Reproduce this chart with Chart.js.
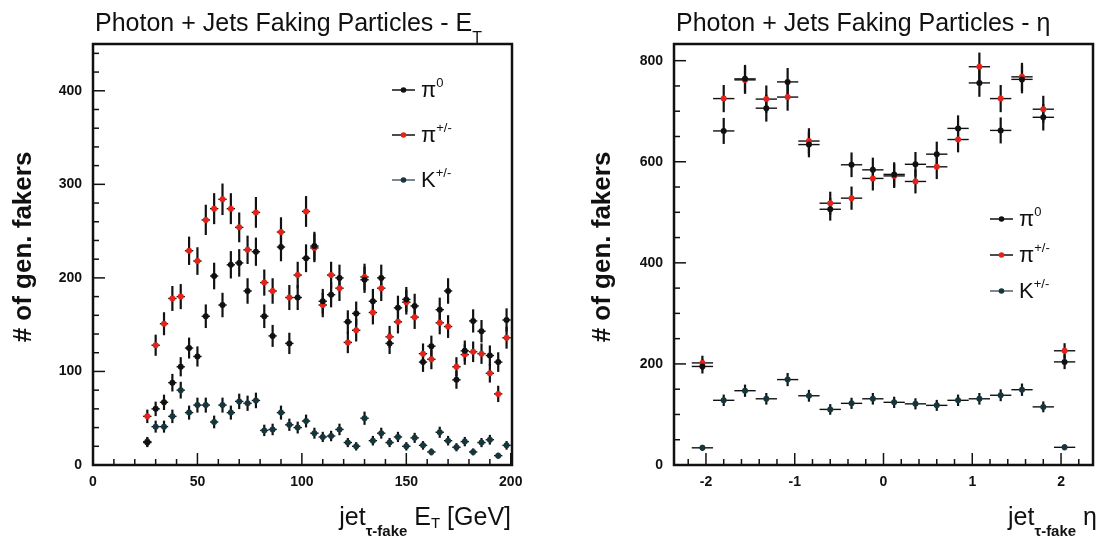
<!DOCTYPE html>
<html>
<head>
<meta charset="utf-8">
<script src="https://cdn.jsdelivr.net/npm/chart.js@4.4.1/dist/chart.umd.min.js"></script>
<style>
    html, body { margin: 0; padding: 0; background: #fff; }
    #wrap { position: relative; width: 1097px; height: 539px; }
    canvas { position: absolute; top: 0; }
    #et-chart { left: 0; }
    #eta-chart { left: 548px; }
</style>
</head>
<body>
<div id="wrap">
    <canvas id="et-chart" width="548" height="539"></canvas>
    <canvas id="eta-chart" width="549" height="539"></canvas>
</div>
<script>
// Left panel: jet E_T, 4 GeV bins
const etBins = [26, 30, 34, 38, 42, 46, 50, 54, 58, 62, 66, 70, 74, 78, 82, 86, 90, 94, 98, 102, 106, 110,
    114, 118, 122, 126, 130, 134, 138, 142, 146, 150, 154, 158, 162, 166, 170, 174, 178, 182, 186, 190, 194, 198];
const etPi0 = [24, 60, 67, 88, 105, 125, 116, 159, 202, 171, 214, 216, 186, 228, 159, 138, 233, 130, 179, 221, 234, 175,
    182, 200, 153, 162, 198, 175, 200, 130, 168, 177, 170, 110, 127, 166, 186, 91, 122, 154, 143, 117, 110, 155];
const etPiPM = [52, 128, 151, 178, 180, 229, 218, 262, 274, 284, 274, 254, 230, 270, 195, 186, 249, 179, 203, 271, 232, 171,
    203, 189, 131, 144, 201, 163, 189, 137, 153, 174, 158, 119, 113, 152, 148, 105, 118, 121, 119, 98, 76, 136];
const etK = [25, 41, 41, 52, 80, 56, 64, 64, 46, 64, 56, 68, 66, 69, 37, 38, 56, 43, 40, 47, 34, 30,
    31, 38, 24, 20, 50, 26, 34, 24, 30, 20, 29, 21, 14, 35, 26, 19, 25, 14, 24, 27, 10, 21];
const etXTicks = [0, 50, 100, 150, 200];
const etYTicks = [0, 100, 200, 300, 400];

// Right panel: jet eta, 0.24 bins
const etaBins = [-2.04, -1.80, -1.56, -1.32, -1.08, -0.84, -0.60, -0.36, -0.12,
    0.12, 0.36, 0.60, 0.84, 1.08, 1.32, 1.56, 1.80, 2.04];
const etaPi0 = [195, 661, 764, 706, 758, 634, 506, 594, 584, 575, 595, 615, 666, 756, 662, 763, 688, 204];
const etaPiPM = [202, 725, 762, 724, 728, 641, 518, 528, 567, 572, 561, 590, 644, 788, 725, 768, 704, 226];
const etaK = [34, 128, 147, 131, 169, 137, 110, 122, 131, 124, 121, 118, 128, 131, 138, 149, 115, 35];
const etaXTicks = [-2, -1, 0, 1, 2];
const etaYTicks = [0, 200, 400, 600, 800];

const FONT = '"Liberation Sans", Arial, Helvetica, sans-serif';
const INK = '#111';
const RED = '#e5231b';
const KCOL = '#14363c';

// draw text made of pieces (sub/superscripts), returns width
const richWidth = (ctx, parts) => parts.reduce((w, p) => {
    ctx.font = p.font;
    return w + ctx.measureText(p.t).width;
}, 0);

const drawRich = (ctx, x, y, parts) => {
    let cx = x;
    parts.forEach((p) => {
        ctx.font = p.font;
        ctx.fillText(p.t, cx, y + (p.dy || 0));
        cx += ctx.measureText(p.t).width;
    });
};

const line = (ctx, x0, y0, x1, y1) => {
    ctx.beginPath();
    ctx.moveTo(x0, y0);
    ctx.lineTo(x1, y1);
    ctx.stroke();
};

const panelPlugin = {
    id: 'panel',
    // Poisson error bars, horizontal = half bin width
    beforeDatasetsDraw(chart, args, opts) {
        const { ctx, scales: { x, y } } = chart;
        ctx.save();
        ctx.strokeStyle = INK;
        chart.data.datasets.forEach((ds) => {
            ds.data.forEach((pt) => {
                const err = Math.sqrt(pt.y);
                const px = x.getPixelForValue(pt.x);
                const py = y.getPixelForValue(pt.y);
                ctx.lineWidth = 2.2;
                line(ctx, px, y.getPixelForValue(pt.y - err), px, y.getPixelForValue(pt.y + err));
                ctx.lineWidth = 1.4;
                line(ctx, x.getPixelForValue(pt.x - opts.halfWidth), py, x.getPixelForValue(pt.x + opts.halfWidth), py);
            });
        });
        ctx.restore();
    },
    afterDraw(chart, args, opts) {
        const { ctx, chartArea: area, scales: { x, y } } = chart;
        ctx.save();
        ctx.strokeStyle = INK;
        ctx.fillStyle = INK;

        // inner tick marks
        ctx.lineWidth = 1.5;
        for (let v = opts.xTicks.from; v <= opts.xTicks.to + 1e-9; v += opts.xTicks.minor) {
            const major = Math.abs(v / opts.xTicks.major - Math.round(v / opts.xTicks.major)) < 1e-6;
            const px = x.getPixelForValue(v);
            line(ctx, px, area.bottom, px, area.bottom - (major ? 12 : 6));
        }
        for (let v = opts.yTicks.from; v <= opts.yTicks.to + 1e-9; v += opts.yTicks.minor) {
            const major = Math.abs(v / opts.yTicks.major - Math.round(v / opts.yTicks.major)) < 1e-6;
            const py = y.getPixelForValue(v);
            line(ctx, area.left, py, area.left + (major ? 12 : 6), py);
        }

        // frame
        ctx.lineWidth = 2.5;
        ctx.strokeRect(area.left, area.top, area.right - area.left, area.bottom - area.top);

        // title
        ctx.textAlign = 'left';
        ctx.textBaseline = 'alphabetic';
        drawRich(ctx, area.left + 2, 31, opts.title);

        // x-axis title, right aligned
        const w = richWidth(ctx, opts.xTitle);
        drawRich(ctx, opts.xTitleEnd - w, 525, opts.xTitle);

        // y-axis title
        ctx.save();
        ctx.translate(opts.yTitleX, 247);
        ctx.rotate(-Math.PI / 2);
        ctx.textAlign = 'center';
        ctx.font = `bold 26px ${FONT}`;
        ctx.fillText('# of gen. fakers', 0, 0);
        ctx.restore();

        // legend
        opts.legend.forEach((row, i) => {
            const ly = opts.legendPos.y + i * opts.legendPos.dy;
            const lx = opts.legendPos.x;
            ctx.strokeStyle = row.line;
            ctx.lineWidth = 1.5;
            line(ctx, lx, ly, lx + 23, ly);
            ctx.fillStyle = row.color;
            ctx.beginPath();
            ctx.arc(lx + 11.5, ly, 2.8, 0, Math.PI * 2);
            ctx.fill();
            ctx.fillStyle = INK;
            drawRich(ctx, lx + 29, ly + 7, row.label);
        });
        ctx.restore();
    },
};

const big = `22px ${FONT}`;
const sup = `13px ${FONT}`;
const legendRows = [
    { line: INK, color: INK, label: [{ t: 'π', font: big }, { t: '0', font: sup, dy: -10 }] },
    { line: INK, color: RED, label: [{ t: 'π', font: big }, { t: '+/-', font: sup, dy: -10 }] },
    { line: '#4f5f6c', color: KCOL, label: [{ t: 'K', font: big }, { t: '+/-', font: sup, dy: -10 }] },
];

const tickFont = { family: FONT, size: 14, weight: 'bold' };

const makePanel = (canvasId, cfg) => {
    const toPoints = (vals) => vals.map((v, i) => ({ x: cfg.bins[i], y: v }));
    const dataset = (label, vals, color) => ({
        label,
        data: toPoints(vals),
        pointRadius: 3,
        pointBackgroundColor: color,
        pointBorderWidth: 0,
        showLine: false,
    });

    return new Chart(document.getElementById(canvasId).getContext('2d'), {
        type: 'scatter',
        data: {
            datasets: [
                dataset('pi0', cfg.pi0, INK),
                dataset('pi+/-', cfg.piPM, RED),
                dataset('K+/-', cfg.k, KCOL),
            ],
        },
        plugins: [panelPlugin],
        options: {
            responsive: false,
            animation: false,
            devicePixelRatio: 1,
            layout: { padding: { left: 0, top: 44, right: cfg.padRight, bottom: 0 } },
            plugins: {
                legend: { display: false },
                tooltip: { enabled: false },
                panel: cfg.panel,
            },
            scales: {
                x: {
                    type: 'linear',
                    min: cfg.xRange[0],
                    max: cfg.xRange[1],
                    grid: { display: false, drawTicks: false },
                    border: { display: false },
                    ticks: { font: tickFont, color: INK, padding: 9, autoSkip: false, maxRotation: 0 },
                    afterBuildTicks: (s) => { s.ticks = cfg.xTicks.map((v) => ({ value: v })); },
                    afterFit: (s) => { s.height = 74; s.paddingLeft = 0; s.paddingRight = 0; },
                },
                y: {
                    type: 'linear',
                    min: 0,
                    max: cfg.yMax,
                    grid: { display: false, drawTicks: false },
                    border: { display: false },
                    ticks: { font: tickFont, color: INK, padding: 11, autoSkip: false },
                    afterBuildTicks: (s) => { s.ticks = cfg.yTicks.map((v) => ({ value: v })); },
                    afterFit: (s) => { s.width = cfg.yWidth; s.paddingTop = 0; s.paddingBottom = 0; },
                },
            },
        },
    });
};

const titleFont = `25px ${FONT}`;
const xtFont = `25px ${FONT}`;
const subFont = `bold 15px ${FONT}`;

makePanel('et-chart', {
    bins: etBins, pi0: etPi0, piPM: etPiPM, k: etK,
    xTicks: etXTicks, yTicks: etYTicks,
    xRange: [0, 200.6], yMax: 450, yWidth: 93, padRight: 36,
    panel: {
        halfWidth: 2,
        xTicks: { from: 0, to: 200, minor: 10, major: 50 },
        yTicks: { from: 0, to: 440, minor: 20, major: 100 },
        title: [{ t: 'Photon + Jets Faking Particles - E', font: titleFont }, { t: 'T', font: `16px ${FONT}`, dy: 12 }],
        xTitle: [
            { t: 'jet', font: xtFont },
            { t: 'τ-fake', font: subFont, dy: 11 },
            { t: ' E', font: xtFont },
            { t: 'T', font: `15px ${FONT}`, dy: 3 },
            { t: ' [GeV]', font: xtFont },
        ],
        xTitleEnd: 511,
        yTitleX: 31,
        legend: legendRows,
        legendPos: { x: 392, y: 90, dy: 45 },
    },
});

makePanel('eta-chart', {
    bins: etaBins, pi0: etaPi0, piPM: etaPiPM, k: etaK,
    xTicks: etaXTicks, yTicks: etaYTicks,
    xRange: [-2.36, 2.36], yMax: 833, yWidth: 126, padRight: 4,
    panel: {
        halfWidth: 0.12,
        xTicks: { from: -2.2, to: 2.2, minor: 0.2, major: 1 },
        yTicks: { from: 0, to: 800, minor: 50, major: 200 },
        title: [{ t: 'Photon + Jets Faking Particles - η', font: titleFont }],
        xTitle: [
            { t: 'jet', font: xtFont },
            { t: 'τ-fake', font: subFont, dy: 11 },
            { t: ' η', font: xtFont },
        ],
        xTitleEnd: 549,
        yTitleX: 62,
        legend: legendRows,
        legendPos: { x: 442, y: 219, dy: 36 },
    },
});
</script>
</body>
</html>
